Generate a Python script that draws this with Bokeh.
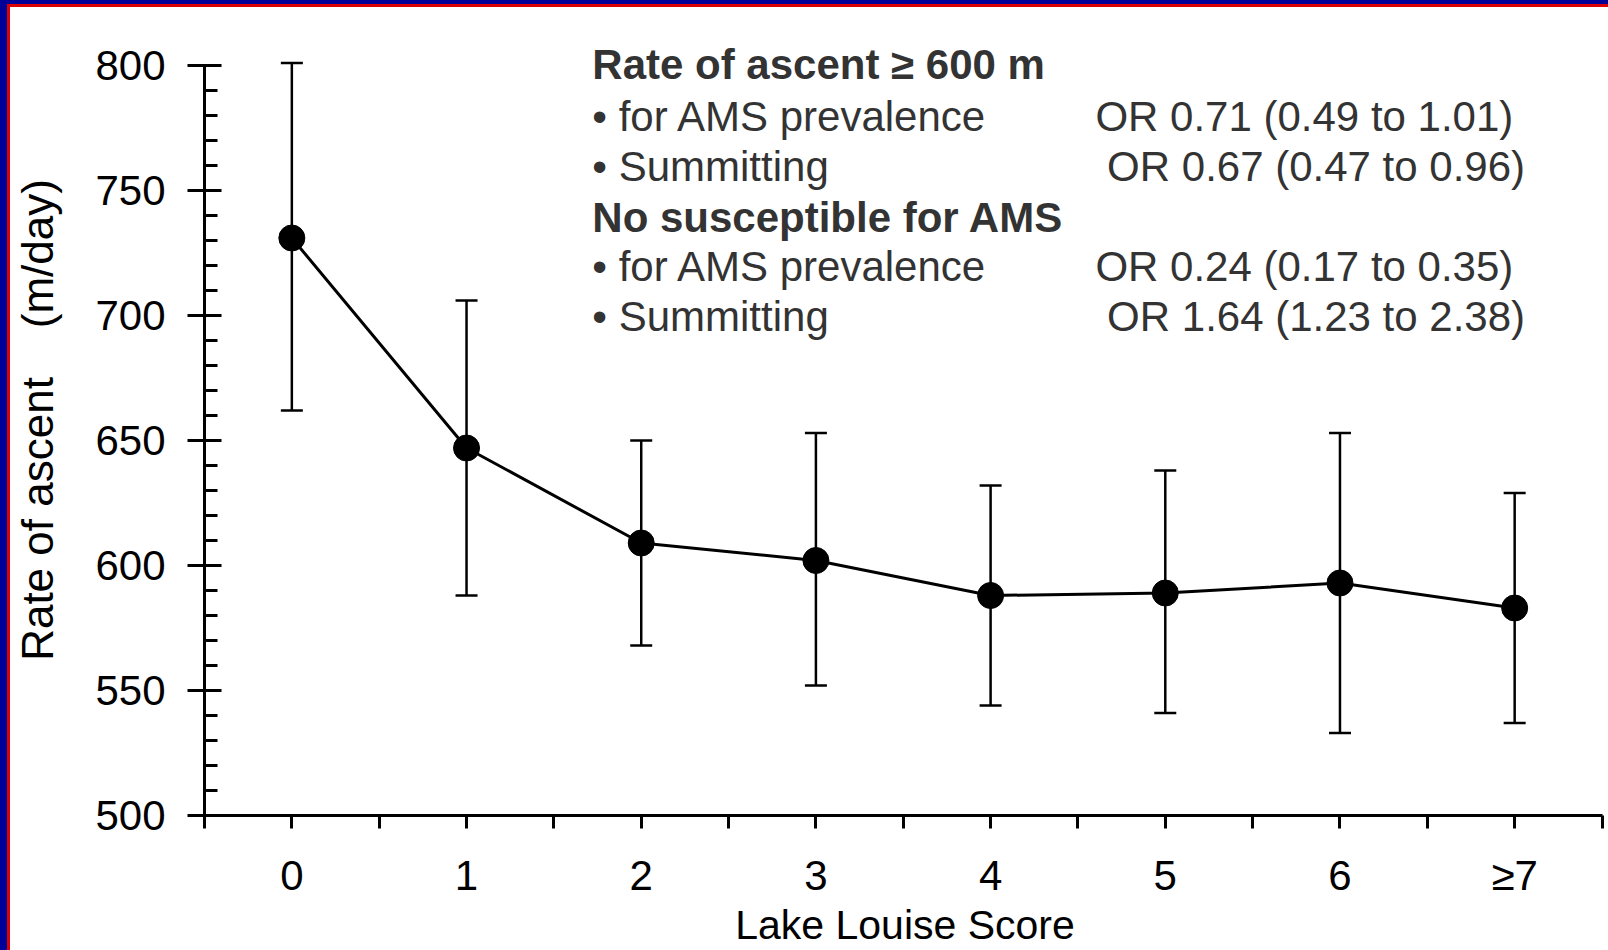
from bokeh.plotting import figure
from bokeh.models import ColumnDataSource, Range1d, FixedTicker, Whisker, TeeHead
from bokeh.core.properties import value
from bokeh.embed import file_html
from bokeh.resources import INLINE

# Lake Louise Score groups and rate of ascent (m/day): mean with upper/lower bar ends
scores = ["0", "1", "2", "3", "4", "5", "6", "≥7"]
rate_mean = [731, 647, 609, 602, 588, 589, 593, 583]
rate_upper = [801, 706, 650, 653, 632, 638, 653, 629]
rate_lower = [662, 588, 568, 552, 544, 541, 533, 537]

y_ticks = [500, 550, 600, 650, 700, 750, 800]

# Odds-ratio notes
heading_lines = ["Rate of ascent ≥ 600 m", "No susceptible for AMS"]
bullet_lines = ["• for AMS prevalence", "• Summitting", "• for AMS prevalence", "• Summitting"]
odds_ratios = ["OR 0.71 (0.49 to 1.01)", "OR 0.67 (0.47 to 0.96)",
               "OR 0.24 (0.17 to 0.35)", "OR 1.64 (1.23 to 2.38)"]

FONT = "Liberation Sans"
W, H = 1608, 950
BLUE, RED = "#000099", "#dd0000"

xs = list(range(len(scores)))
src = ColumnDataSource(dict(x=xs, y=rate_mean, upper=rate_upper, lower=rate_lower))

p = figure(width=W, height=H, output_backend="svg", toolbar_location=None,
           x_range=Range1d(-0.5, 7.52), y_range=Range1d(500, 816.4),
           min_border_left=204, min_border_right=3, min_border_top=24, min_border_bottom=135)
p.background_fill_color = "white"
# transparent outer border so the slide frame painted on the host element shows through
p.border_fill_color = None
p.outline_line_color = None
p.xgrid.visible = False
p.ygrid.visible = False
p.styles = {
    "background-color": "white",
    "box-shadow": f"inset 7px 4px 0 0 {BLUE}, inset 10px 7px 0 0 {RED}",
}

# curve, error bars, points
p.line("x", "y", source=src, line_color="black", line_width=3)
p.add_layout(Whisker(source=src, base="x", upper="upper", lower="lower",
                     line_color="black", line_width=2.5,
                     upper_head=TeeHead(size=22, line_color="black", line_width=2.5),
                     lower_head=TeeHead(size=22, line_color="black", line_width=2.5)))
p.scatter("x", "y", source=src, size=26, color="black")

# x axis
xa = p.xaxis[0]
xa.bounds = (-0.5, 7.5)
xa.ticker = FixedTicker(ticks=xs, minor_ticks=[i + 0.5 for i in range(-1, 8)])
xa.major_label_overrides = {i: s for i, s in enumerate(scores)}
xa.axis_label = "Lake Louise Score"
xa.axis_line_width = 3
xa.major_tick_line_width = 3
xa.minor_tick_line_width = 3
xa.major_tick_in = 0
xa.major_tick_out = 13
xa.minor_tick_in = 0
xa.minor_tick_out = 13
xa.major_label_text_font = FONT
xa.major_label_text_font_size = "42px"
xa.major_label_text_color = "black"
xa.major_label_standoff = 23
xa.axis_label_text_font = FONT
xa.axis_label_text_font_size = "41px"
xa.axis_label_text_font_style = "normal"
xa.axis_label_text_color = "black"
xa.axis_label_standoff = 0

# y axis
ya = p.yaxis[0]
ya.bounds = (500, 800)
ya.ticker = FixedTicker(ticks=y_ticks, minor_ticks=list(range(500, 801, 10)))
ya.axis_label = "Rate of ascent\u00a0\u00a0\u00a0\u00a0(m/day)"
ya.axis_line_width = 3
ya.major_tick_line_width = 3
ya.minor_tick_line_width = 3
ya.major_tick_in = 17
ya.major_tick_out = 17
ya.minor_tick_in = 13
ya.minor_tick_out = 0
ya.major_label_text_font = FONT
ya.major_label_text_font_size = "42px"
ya.major_label_text_color = "black"
ya.major_label_standoff = 22
ya.axis_label_text_font = FONT
ya.axis_label_text_font_size = "44px"
ya.axis_label_text_font_style = "normal"
ya.axis_label_text_color = "black"
ya.axis_label_standoff = 30

# notes block
TEXT_COLOR = "#333333"
head_src = ColumnDataSource(dict(x=[1.72, 1.72], y=[800.6, 739.2], t=heading_lines))
bullet_src = ColumnDataSource(dict(x=[1.72] * 4, y=[779.8, 759.8, 719.6, 699.8], t=bullet_lines))
or_src = ColumnDataSource(dict(x=[4.60, 4.667, 4.60, 4.667], y=[779.8, 759.8, 719.6, 699.8],
                               t=odds_ratios))
p.text("x", "y", text="t", source=head_src, text_font=value(FONT), text_font_size="42px",
       text_font_style="bold", text_color=TEXT_COLOR, text_baseline="alphabetic")
p.text("x", "y", text="t", source=bullet_src, text_font=value(FONT), text_font_size="42px",
       text_color=TEXT_COLOR, text_baseline="alphabetic")
p.text("x", "y", text="t", source=or_src, text_font=value(FONT), text_font_size="42px",
       text_color=TEXT_COLOR, text_baseline="alphabetic")

open("out.html", "w").write(file_html(p, INLINE))
